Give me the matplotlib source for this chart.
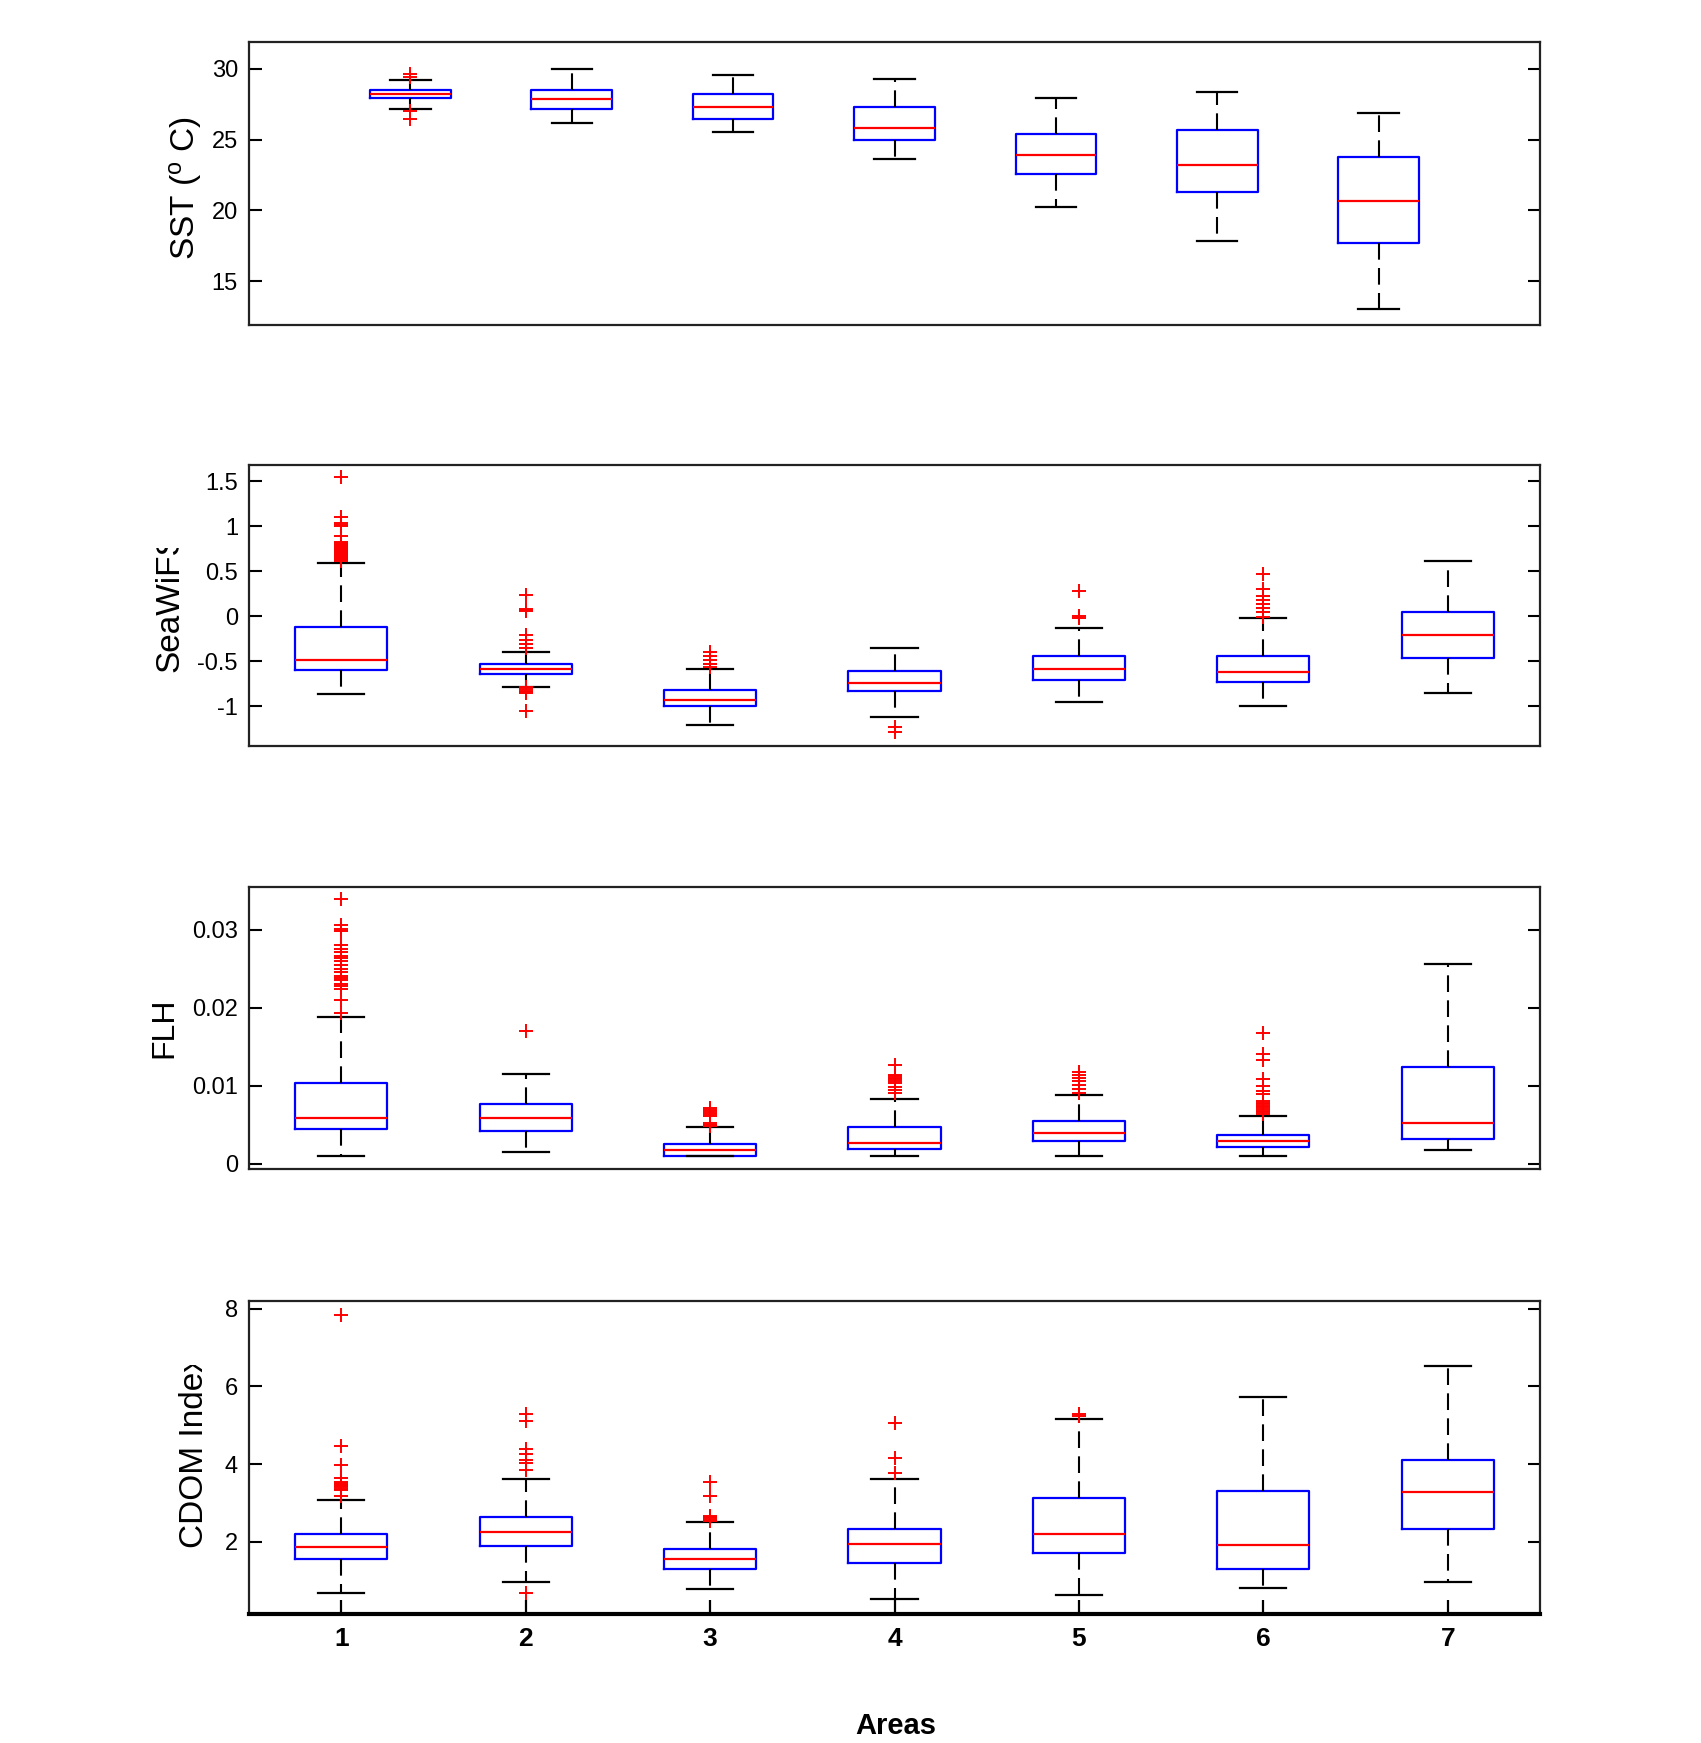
import matplotlib
matplotlib.use("Agg")
import matplotlib.pyplot as plt
from matplotlib.transforms import Bbox, TransformedBbox

# ---------------- data ----------------
areas = [1, 2, 3, 4, 5, 6, 7]
area_labels = ["1", "2", "3", "4", "5", "6", "7"]

# SST (deg C)
sst_q1 = [27.93, 27.13, 26.47, 25.00, 22.56, 21.33, 17.71]
sst_med = [28.26, 27.84, 27.29, 25.81, 23.92, 23.22, 20.68]
sst_q3 = [28.54, 28.54, 28.26, 27.32, 25.38, 25.69, 23.78]
sst_lo = [27.13, 26.20, 25.53, 23.66, 20.27, 17.85, 13.00]
sst_hi = [29.18, 30.00, 29.60, 29.29, 27.95, 28.37, 26.89]
sst_fl = [[29.65, 29.40, 27.05, 26.45], [], [], [], [], [], []]
sst_ticks = [15, 20, 25, 30]
sst_ticklabels = ["15", "20", "25", "30"]

# SeaWiFS
sw_q1 = [-0.596, -0.64, -0.996, -0.826, -0.704, -0.726, -0.467]
sw_med = [-0.485, -0.59, -0.933, -0.741, -0.589, -0.615, -0.211]
sw_q3 = [-0.122, -0.53, -0.822, -0.611, -0.444, -0.444, 0.048]
sw_lo = [-0.867, -0.78, -1.207, -1.122, -0.956, -0.996, -0.848]
sw_hi = [0.596, -0.40, -0.589, -0.356, -0.126, -0.022, 0.615]
sw_fl = [
    [1.544, 1.10, 1.04, 1.01, 1.00, 0.89, 0.82, 0.81, 0.80, 0.79, 0.78, 0.77,
     0.76, 0.75, 0.74, 0.73, 0.72, 0.71, 0.70, 0.69, 0.68, 0.67, 0.66, 0.65,
     0.64, 0.63, 0.62, 0.61],
    [0.237, 0.078, 0.067, 0.06, -0.207, -0.263, -0.307, -0.356, -0.79, -0.81,
     -0.826, -0.84, -0.856, -1.048],
    [-0.393, -0.44, -0.485, -0.53, -0.567],
    [-1.226, -1.289],
    [0.278, 0.004, -0.022],
    [0.474, 0.30, 0.226, 0.18, 0.137, 0.09, 0.048, -0.004],
    [],
]
sw_ticks = [-1, -0.5, 0, 0.5, 1, 1.5]
sw_ticklabels = ["-1", "-0.5", "0", "0.5", "1", "1.5"]

# FLH
flh_q1 = [0.00439, 0.00413, 0.00094, 0.00192, 0.00290, 0.00217, 0.00320]
flh_med = [0.00588, 0.00588, 0.00175, 0.00268, 0.00392, 0.00294, 0.00516]
flh_q3 = [0.01031, 0.00758, 0.00247, 0.00469, 0.00541, 0.00366, 0.01244]
flh_lo = [0.00098, 0.00149, 0.00094, 0.00098, 0.00098, 0.00098, 0.00175]
flh_hi = [0.0188, 0.0115, 0.00464, 0.0083, 0.00878, 0.00614, 0.0256]
flh_fl = [
    [0.0339, 0.0306, 0.0301, 0.0298, 0.0281, 0.0276, 0.0271, 0.0267, 0.0264,
     0.0260, 0.0255, 0.0250, 0.0246, 0.0241, 0.0238, 0.0235, 0.0231, 0.0228,
     0.0224, 0.0210, 0.0193],
    [0.0170],
    [0.0071, 0.0069, 0.0066, 0.0063, 0.0061, 0.0052, 0.0050, 0.0049, 0.0048],
    [0.0127, 0.0114, 0.0112, 0.0110, 0.0108, 0.0106, 0.0104, 0.0098, 0.0094,
     0.0090],
    [0.0118, 0.0114, 0.0110, 0.0106, 0.0101, 0.0096, 0.0091],
    [0.0168, 0.0141, 0.0133, 0.0108, 0.0100, 0.0093, 0.0089, 0.0080, 0.0078,
     0.0076, 0.0074, 0.0072, 0.0070, 0.0068, 0.0066, 0.0064],
    [],
]
flh_ticks = [0, 0.01, 0.02, 0.03]
flh_ticklabels = ["0", "0.01", "0.02", "0.03"]

# CDOM Index
cd_q1 = [1.554, 1.897, 1.31, 1.46, 1.70, 1.31, 2.34]
cd_med = [1.863, 2.25, 1.56, 1.95, 2.19, 1.906, 3.28]
cd_q3 = [2.197, 2.64, 1.81, 2.34, 3.13, 3.32, 4.10]
cd_lo = [0.678, 0.97, 0.78, 0.52, 0.627, 0.815, 0.97]
cd_hi = [3.08, 3.62, 2.50, 3.62, 5.15, 5.73, 6.52]
cd_fl = [
    [7.85, 4.46, 3.97, 3.65, 3.55, 3.52, 3.49, 3.46, 3.43, 3.40, 3.37, 3.34, 3.18],
    [5.29, 5.10, 4.38, 4.27, 4.10, 4.02, 3.86, 0.68],
    [3.53, 3.18, 2.66, 2.63, 2.60, 2.57, 2.54],
    [5.05, 4.15, 3.77],
    [5.29, 5.25],
    [],
    [],
]
cd_ticks = [2, 4, 6, 8]
cd_ticklabels = ["2", "4", "6", "8"]

# ---------------- figure ----------------
W, H = 1701, 1743
plt.rcParams["font.family"] = ["Liberation Sans Narrow", "Liberation Sans", "DejaVu Sans"]
plt.rcParams["mathtext.fontset"] = "custom"
plt.rcParams["mathtext.rm"] = "Liberation Sans"
plt.rcParams["mathtext.it"] = "Liberation Sans"

fig = plt.figure(figsize=(W / 100, H / 100), dpi=100)
fig.patch.set_facecolor("white")


def rect(top_px, bot_px, left_px=249, right_px=1540):
    return [left_px / W, 1 - bot_px / H, (right_px - left_px) / W, (bot_px - top_px) / H]


def stats(q1, med, q3, lo, hi, fl):
    return [dict(q1=a, med=b, q3=c, whislo=d, whishi=e, fliers=f)
            for a, b, c, d, e, f in zip(q1, med, q3, lo, hi, fl)]


def draw(ax, st, ylim, xlim, ticks, ticklabels):
    ax.bxp(st, positions=areas, widths=0.5, capwidths=0.25,
           boxprops=dict(color="#0000ff", lw=1.6),
           medianprops=dict(color="#ff0000", lw=1.6),
           whiskerprops=dict(color="black", lw=1.5, linestyle=(0, (8, 4))),
           capprops=dict(color="black", lw=1.6),
           flierprops=dict(marker="+", markeredgecolor="#ff0000", markersize=10,
                           markeredgewidth=1.4, linestyle="none"))
    ax.set_xlim(*xlim)
    ax.set_ylim(*ylim)
    ax.set_yticks(ticks)
    ax.set_yticklabels(ticklabels)
    ax.tick_params(axis="y", direction="in", length=9, width=1.5, left=True,
                   right=True, labelsize=17, pad=8)
    ax.tick_params(axis="x", bottom=False, labelbottom=False)
    for sp in ax.spines.values():
        sp.set_linewidth(1.6)
        sp.set_color("#222222")


ax1 = fig.add_axes(rect(42, 325))
draw(ax1, stats(sst_q1, sst_med, sst_q3, sst_lo, sst_hi, sst_fl),
     (11.9, 31.9), (0, 8), sst_ticks, sst_ticklabels)

ax2 = fig.add_axes(rect(465, 746))
draw(ax2, stats(sw_q1, sw_med, sw_q3, sw_lo, sw_hi, sw_fl),
     (-1.44, 1.68), (0.5, 7.5), sw_ticks, sw_ticklabels)

ax3 = fig.add_axes(rect(887, 1169))
draw(ax3, stats(flh_q1, flh_med, flh_q3, flh_lo, flh_hi, flh_fl),
     (-0.0007, 0.0355), (0.5, 7.5), flh_ticks, flh_ticklabels)

ax4 = fig.add_axes(rect(1301, 1614))
draw(ax4, stats(cd_q1, cd_med, cd_q3, cd_lo, cd_hi, cd_fl),
     (0.14, 8.2), (0.5, 7.5), cd_ticks, cd_ticklabels)
ax4.set_xticks(areas)
ax4.set_xticklabels(area_labels, fontweight="bold", fontsize=19)
ax4.tick_params(axis="x", bottom=True, labelbottom=True, direction="in",
                length=10, width=1.6, pad=9)
ax4.spines["bottom"].set_linewidth(3.0)
ax4.spines["bottom"].set_color("black")

# ---------------- labels ----------------
lab_font = dict(family=["Liberation Sans", "DejaVu Sans"], fontsize=24, color="black")


def fx(px):
    return px / W


def fy(py):
    return 1 - py / H


fig.text(fx(185), fy(188), "SST ($^{o}$ C)", rotation=90, ha="center", va="center", **lab_font)

t_sw = fig.text(fx(169.5), fy(672), "SeaWiFS", rotation=90, ha="center", va="bottom", **lab_font)
t_sw.set_clip_on(True)
t_sw.set_clip_box(TransformedBbox(Bbox([[0, 0], [1, fy(548)]]), fig.transFigure))

fig.text(fx(164.5), fy(1028), "FLH", rotation=90, ha="center", va="center",
         family=["Liberation Sans", "DejaVu Sans"], fontsize=23, color="black")

t_cd = fig.text(fx(194.5), fy(1548), "CDOM Index", rotation=90, ha="center", va="bottom", **lab_font)
t_cd.set_clip_on(True)
t_cd.set_clip_box(TransformedBbox(Bbox([[0, 0], [1, fy(1365)]]), fig.transFigure))

fig.text(fx(896), fy(1726), "Areas", ha="center", va="center",
         family=["Liberation Sans", "DejaVu Sans"], fontsize=21, fontweight="bold")

fig.savefig("out.png", dpi=100, facecolor="white")
